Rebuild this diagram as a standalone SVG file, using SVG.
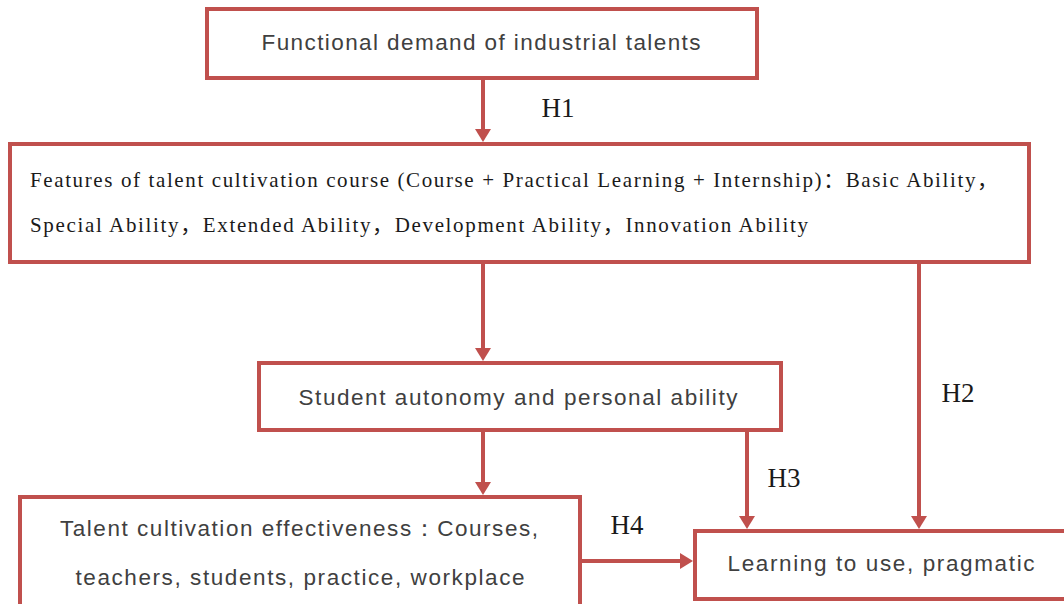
<svg xmlns="http://www.w3.org/2000/svg" width="1064" height="604" viewBox="0 0 1064 604">
  <style>
    .box { fill: #ffffff; stroke: #C0504D; stroke-width: 4; }
    .sans { font-family: "Liberation Sans", Arial, sans-serif; font-size: 22.5px; fill: #404040; }
    .serif { font-family: "Liberation Serif", "Times New Roman", "Noto Sans CJK SC", serif; font-size: 21px; fill: #1a1a1a; }
    .lbl { font-family: "Liberation Serif", "Times New Roman", serif; font-size: 27px; fill: #1a1a1a; }
    .link { fill: none; stroke: #C0504D; stroke-width: 4; marker-end: url(#head); }
  </style>
  <defs>
    <marker id="head" viewBox="0 0 13 16" refX="5" refY="8" markerWidth="13" markerHeight="16" markerUnits="userSpaceOnUse" orient="auto">
      <path d="M0,0 L13,8 L0,16 Z" fill="#C0504D"/>
    </marker>
  </defs>
  <rect width="1064" height="604" fill="#ffffff"/>

  <!-- connectors -->
  <g id="connectors">
    <path class="link" d="M483,79 L483,134"/>
    <path class="link" d="M483,264 L483,353"/>
    <path class="link" d="M919,264 L919,521"/>
    <path class="link" d="M483,431 L483,487"/>
    <path class="link" d="M747,431 L747,521"/>
    <path class="link" d="M582,561 L685,561"/>
    <text class="lbl" x="558" y="117" text-anchor="middle">H1</text>
    <text class="lbl" x="958" y="402" text-anchor="middle">H2</text>
    <text class="lbl" x="784" y="487" text-anchor="middle">H3</text>
    <text class="lbl" x="627" y="534" text-anchor="middle">H4</text>
  </g>

  <g id="demand">
    <rect class="box" x="207" y="9" width="550" height="69"/>
    <text class="sans" x="481" y="50" text-anchor="middle" textLength="439" lengthAdjust="spacing">Functional demand of industrial talents</text>
  </g>

  <g id="features">
    <rect class="box" x="10" y="144" width="1019" height="118"/>
    <text class="serif" x="30" y="187" textLength="968" lengthAdjust="spacing">Features of talent cultivation course (Course + Practical Learning + Internship)：Basic Ability，</text>
    <text class="serif" x="30" y="232" textLength="778" lengthAdjust="spacing">Special Ability，Extended Ability，Development Ability，Innovation Ability</text>
  </g>

  <g id="autonomy">
    <rect class="box" x="259" y="363" width="522" height="67"/>
    <text class="sans" x="518" y="405" text-anchor="middle" textLength="439" lengthAdjust="spacing">Student autonomy and personal ability</text>
  </g>

  <g id="effectiveness">
    <rect class="box" x="20" y="497" width="560" height="130"/>
    <text class="sans" x="299" y="536" text-anchor="middle" textLength="478" lengthAdjust="spacing">Talent cultivation effectiveness：Courses,</text>
    <text class="sans" x="300" y="585" text-anchor="middle" textLength="449" lengthAdjust="spacing">teachers, students, practice, workplace</text>
  </g>

  <g id="pragmatic">
    <rect class="box" x="695" y="531" width="420" height="68"/>
    <text class="sans" x="881" y="571" text-anchor="middle" textLength="307" lengthAdjust="spacing">Learning to use, pragmatic</text>
  </g>
</svg>
